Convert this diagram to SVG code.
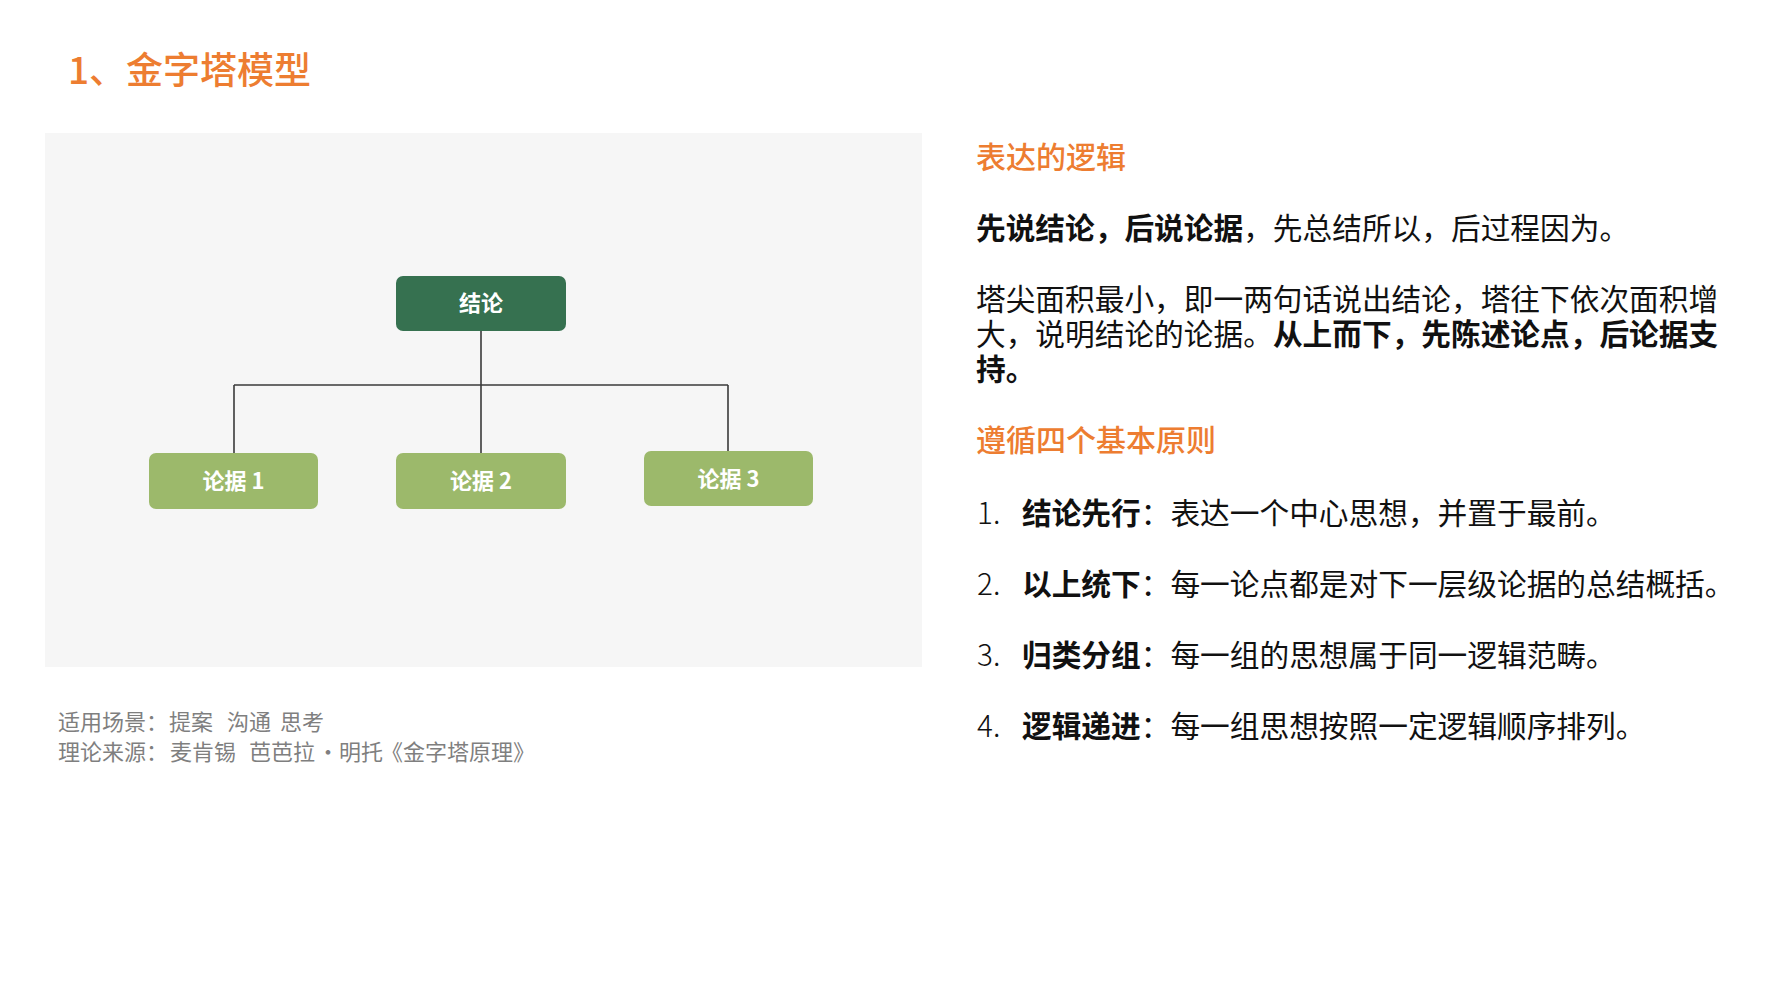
<svg xmlns="http://www.w3.org/2000/svg" width="1778" height="1000" viewBox="0 0 1778 1000">
<style>
text{font-family:"Noto Sans CJK SC","Noto Sans",sans-serif}
.title{font-size:37px;fill:#ED7D31;font-weight:500}
.head{font-size:30px;fill:#ED7D31;font-weight:500}
.body{font-size:29.7px;fill:#111111}
.b{font-weight:bold}
.num{font-weight:300}
.foot{font-size:22px;fill:#7F7F7F}
.lbl{font-size:22px;fill:#ffffff;font-weight:bold;text-anchor:middle}
.top{fill:#367150}
.leaf{fill:#9CB96B}
.conn{stroke:#3A3A3A;stroke-width:1.6;fill:none}
</style>
<rect width="1778" height="1000" fill="#ffffff"/>
<text class="title" x="68" y="84">1、金字塔模型</text>
<rect x="45" y="133" width="877" height="534" fill="#F6F6F6"/>
<g id="connectors">
<path class="conn" d="M481 331 V453"/>
<path class="conn" d="M234 385 H728"/>
<path class="conn" d="M234 385 V453"/>
<path class="conn" d="M728 385 V451"/>
</g>
<g id="node-conclusion">
<rect class="top" x="396" y="276" width="170" height="55" rx="7"/>
<text class="lbl" x="481" y="311">结论</text>
</g>
<g id="node-arg1">
<rect class="leaf" x="149" y="453" width="169" height="56" rx="7"/>
<text class="lbl" x="233.5" y="489">论据 1</text>
</g>
<g id="node-arg2">
<rect class="leaf" x="396" y="453" width="170" height="56" rx="7"/>
<text class="lbl" x="481" y="489">论据 2</text>
</g>
<g id="node-arg3">
<rect class="leaf" x="644" y="451" width="169" height="55" rx="7"/>
<text class="lbl" x="728.5" y="487">论据 3</text>
</g>
<text class="head" x="976" y="168">表达的逻辑</text>
<text class="body" x="976" y="239"><tspan class="b">先说结论，后说论据</tspan>，先总结所以，后过程因为。</text>
<text class="body" x="976" y="310">塔尖面积最小，即一两句话说出结论，塔往下依次面积增</text>
<text class="body" x="976" y="345">大，说明结论的论据。<tspan class="b">从上而下，先陈述论点，后论据支</tspan></text>
<text class="body b" x="976" y="380">持。</text>
<text class="head" x="976" y="451">遵循四个基本原则</text>
<text class="body" y="524"><tspan class="num" x="977">1.</tspan><tspan class="b" x="1022">结论先行</tspan>：表达一个中心思想，并置于最前。</text>
<text class="body" y="595"><tspan class="num" x="977">2.</tspan><tspan class="b" x="1022">以上统下</tspan>：每一论点都是对下一层级论据的总结概括。</text>
<text class="body" y="666"><tspan class="num" x="977">3.</tspan><tspan class="b" x="1022">归类分组</tspan>：每一组的思想属于同一逻辑范畴。</text>
<text class="body" y="737"><tspan class="num" x="977">4.</tspan><tspan class="b" x="1022">逻辑递进</tspan>：每一组思想按照一定逻辑顺序排列。</text>
<text class="foot" y="730"><tspan x="58">适用场景：</tspan><tspan x="169">提案</tspan><tspan x="227">沟通</tspan><tspan x="280">思考</tspan></text>
<text class="foot" y="760"><tspan x="58">理论来源：</tspan><tspan x="170">麦肯锡</tspan><tspan x="249">芭芭拉</tspan><tspan x="317">·</tspan><tspan x="339">明托</tspan><tspan x="381">《金字塔原理》</tspan></text>
</svg>
